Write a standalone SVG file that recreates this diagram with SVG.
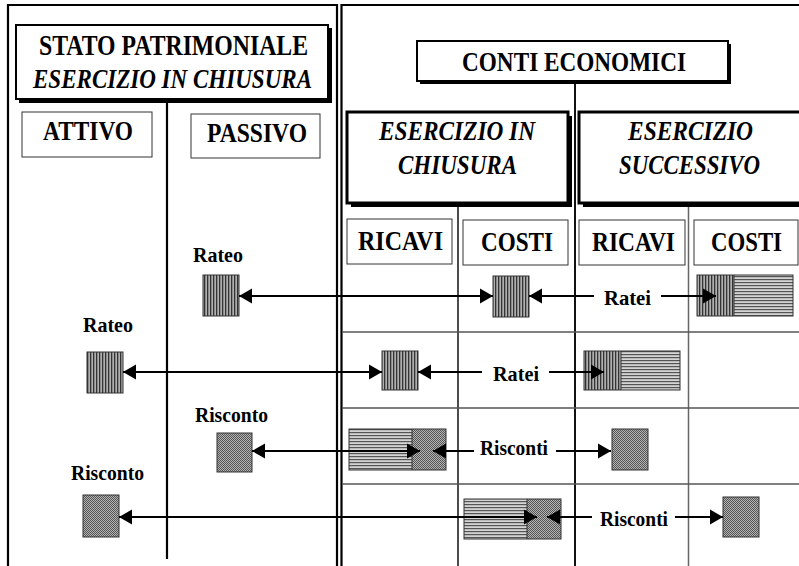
<svg xmlns="http://www.w3.org/2000/svg" width="799" height="566" viewBox="0 0 799 566">
<defs>
 <pattern id="pv" width="3" height="3" patternUnits="userSpaceOnUse"><rect width="3" height="3" fill="#b0b0b0"/><rect width="1.3" height="3" fill="#333"/></pattern>
 <pattern id="ph" width="3" height="3" patternUnits="userSpaceOnUse"><rect width="3" height="3" fill="#d4d4d4"/><rect width="3" height="1.2" fill="#555"/></pattern>
 <pattern id="pd" width="2" height="2" patternUnits="userSpaceOnUse"><rect width="2" height="2" fill="#b4b4b4"/><rect width="1" height="1" fill="#555"/><rect x="1" y="1" width="1" height="1" fill="#555"/></pattern>
 <marker id="ah" markerUnits="userSpaceOnUse" markerWidth="14" markerHeight="16" refX="13" refY="8" orient="auto-start-reverse"><path d="M0,0.5 L13,8 L0,15.5 z" fill="#000"/></marker>
</defs>
<style>
 .t{font-family:"Liberation Serif","Times New Roman",serif;font-weight:bold;fill:#000;text-anchor:middle}
 .h{font-size:27px}
 .i{font-style:italic}
 .l{font-size:22px}
 .frame{fill:none;stroke:#000;stroke-width:2.2}
 .box{fill:#fff;stroke:#000;stroke-width:2}
 .tbox{fill:#fff;stroke:#000;stroke-width:3}
 .shadow{fill:#000}
 .hdr{fill:#fff;stroke:#333;stroke-width:1}
 .grid{stroke:#555;stroke-width:1.5;fill:none}
 .sq{stroke:#333;stroke-width:1}
 .arr{stroke:#000;stroke-width:2;fill:none;marker-end:url(#ah)}
 .arr2{marker-start:url(#ah)}
</style>
<rect width="799" height="566" fill="#fff"/>

<g id="frame">
 <path class="frame" d="M8,566 V5 H337 V566"/>
 <path class="frame" d="M341.5,566 V5 H799"/>
 <line class="frame" x1="167" y1="103" x2="167" y2="559" stroke-width="1.8"/>
 <line x1="575" y1="83" x2="575" y2="566" stroke="#111" stroke-width="2"/>
 <line x1="458" y1="205" x2="458" y2="566" stroke="#111" stroke-width="1.5"/>
 <line x1="688.5" y1="205" x2="688.5" y2="566" stroke="#666" stroke-width="1.5"/>
 <path class="grid" d="M342,332 H799 M342,408 H799 M342,484 H799"/>
</g>

<g id="stato-patrimoniale">
 <rect class="shadow" x="19" y="28" width="313" height="75"/>
 <rect class="box" x="16" y="25" width="312" height="74"/>
 <text class="t" x="173.5" y="55" font-size="29" textLength="269" lengthAdjust="spacingAndGlyphs">STATO PATRIMONIALE</text>
 <text class="t h i" x="172.5" y="88" textLength="279" lengthAdjust="spacingAndGlyphs">ESERCIZIO IN CHIUSURA</text>
</g>
<g id="attivo">
 <rect class="hdr" x="22" y="112" width="130" height="45"/>
 <text class="t h" x="88" y="140" textLength="90" lengthAdjust="spacingAndGlyphs">ATTIVO</text>
</g>
<g id="passivo">
 <rect class="hdr" x="191" y="114" width="129" height="44"/>
 <text class="t h" x="257" y="142" textLength="100" lengthAdjust="spacingAndGlyphs">PASSIVO</text>
</g>

<g id="conti-economici">
 <rect class="shadow" x="420" y="44" width="311" height="40"/>
 <rect class="box" x="417" y="41" width="311" height="40"/>
 <text class="t h" x="574" y="71" textLength="224" lengthAdjust="spacingAndGlyphs">CONTI ECONOMICI</text>
</g>
<g id="esercizio-chiusura">
 <rect class="shadow" x="351" y="116" width="221" height="91"/>
 <rect class="tbox" x="347" y="112" width="221" height="91"/>
 <text class="t h i" x="457" y="140" textLength="156" lengthAdjust="spacingAndGlyphs">ESERCIZIO IN</text>
 <text class="t h i" x="457.5" y="174" textLength="119" lengthAdjust="spacingAndGlyphs">CHIUSURA</text>
</g>
<g id="esercizio-successivo">
 <rect class="shadow" x="583" y="116" width="230" height="91"/>
 <rect class="tbox" x="579" y="112" width="230" height="91"/>
 <text class="t h i" x="690.5" y="140" textLength="125" lengthAdjust="spacingAndGlyphs">ESERCIZIO</text>
 <text class="t h i" x="689.5" y="174" textLength="141" lengthAdjust="spacingAndGlyphs">SUCCESSIVO</text>
</g>
<g id="ricavi-1">
 <rect class="hdr" x="347" y="219" width="105" height="45"/>
 <text class="t h" x="400.5" y="250" textLength="85" lengthAdjust="spacingAndGlyphs">RICAVI</text>
</g>
<g id="costi-1">
 <rect class="hdr" x="463" y="220" width="105" height="45"/>
 <text class="t h" x="517" y="251" textLength="72" lengthAdjust="spacingAndGlyphs">COSTI</text>
</g>
<g id="ricavi-2">
 <rect class="hdr" x="579" y="220" width="106" height="45"/>
 <text class="t h" x="633.5" y="251" textLength="83" lengthAdjust="spacingAndGlyphs">RICAVI</text>
</g>
<g id="costi-2">
 <rect class="hdr" x="694" y="220" width="104" height="45"/>
 <text class="t h" x="746.5" y="251" textLength="71" lengthAdjust="spacingAndGlyphs">COSTI</text>
</g>

<!-- row 1 -->
<g id="rateo-passivo">
 <text class="t l" x="218" y="262" textLength="50" lengthAdjust="spacingAndGlyphs">Rateo</text>
 <rect class="sq" x="203" y="275" width="36" height="41" fill="url(#pv)"/>
</g>
<g id="costo-rateo-1">
 <rect class="sq" x="493" y="276" width="36" height="41" fill="url(#pv)"/>
</g>
<g id="costo-rateo-2">
 <rect x="697" y="275" width="37" height="41" fill="url(#pv)"/>
 <rect x="734" y="275" width="59" height="41" fill="url(#ph)"/>
 <rect class="sq" x="697" y="275" width="96" height="41" fill="none"/>
 <line class="sq" x1="734" y1="275" x2="734" y2="316"/>
</g>
<!-- row 2 -->
<g id="rateo-attivo">
 <text class="t l" x="108" y="332" textLength="50" lengthAdjust="spacingAndGlyphs">Rateo</text>
 <rect class="sq" x="87" y="352" width="36" height="41" fill="url(#pv)"/>
</g>
<g id="ricavo-rateo-1">
 <rect class="sq" x="382" y="351" width="36" height="39" fill="url(#pv)"/>
</g>
<g id="ricavo-rateo-2">
 <rect x="584" y="351" width="37" height="39" fill="url(#pv)"/>
 <rect x="621" y="351" width="59" height="39" fill="url(#ph)"/>
 <rect class="sq" x="584" y="351" width="96" height="39" fill="none"/>
 <line class="sq" x1="621" y1="351" x2="621" y2="390"/>
</g>
<!-- row 3 -->
<g id="risconto-passivo">
 <text class="t l" x="231.5" y="422" textLength="73" lengthAdjust="spacingAndGlyphs">Risconto</text>
 <rect class="sq" x="217" y="433" width="35" height="39" fill="url(#pd)"/>
</g>
<g id="ricavo-risconto-1">
 <rect x="349" y="429" width="63" height="41" fill="url(#ph)"/>
 <rect x="412" y="429" width="34" height="41" fill="url(#pd)"/>
 <rect class="sq" x="349" y="429" width="97" height="41" fill="none"/>
 <line class="sq" x1="412" y1="429" x2="412" y2="470"/>
</g>
<g id="ricavo-risconto-2">
 <rect class="sq" x="612" y="429" width="36" height="41" fill="url(#pd)"/>
</g>
<!-- row 4 -->
<g id="risconto-attivo">
 <text class="t l" x="107.5" y="480" textLength="73" lengthAdjust="spacingAndGlyphs">Risconto</text>
 <rect class="sq" x="83" y="495" width="36" height="42" fill="url(#pd)"/>
</g>
<g id="costo-risconto-1">
 <rect x="464" y="499" width="63" height="40" fill="url(#ph)"/>
 <rect x="527" y="499" width="34" height="40" fill="url(#pd)"/>
 <rect class="sq" x="464" y="499" width="97" height="40" fill="none"/>
 <line class="sq" x1="527" y1="499" x2="527" y2="539"/>
</g>
<g id="costo-risconto-2">
 <rect class="sq" x="723" y="497" width="36" height="40" fill="url(#pd)"/>
</g>

<g id="connectors">
 <line class="arr arr2" x1="239" y1="296" x2="493" y2="296"/>
 <line class="arr" x1="594" y1="296" x2="529" y2="296"/>
 <line class="arr" x1="661" y1="296" x2="716" y2="296"/>
 <text class="t l" x="627.5" y="305" textLength="47" lengthAdjust="spacingAndGlyphs">Ratei</text>

 <line class="arr arr2" x1="123" y1="372" x2="382" y2="372"/>
 <line class="arr" x1="482" y1="372" x2="418" y2="372"/>
 <line class="arr" x1="549" y1="372" x2="604" y2="372"/>
 <text class="t l" x="516" y="381" textLength="46" lengthAdjust="spacingAndGlyphs">Ratei</text>

 <line class="arr arr2" x1="252" y1="451" x2="420" y2="451"/>
 <line class="arr" x1="474" y1="451" x2="433" y2="451"/>
 <line class="arr" x1="556" y1="451" x2="611" y2="451"/>
 <text class="t l" x="514" y="455" textLength="68" lengthAdjust="spacingAndGlyphs">Risconti</text>

 <line class="arr arr2" x1="119" y1="517" x2="537" y2="517"/>
 <line class="arr" x1="592" y1="517" x2="547" y2="517"/>
 <line class="arr" x1="675" y1="517" x2="723" y2="517"/>
 <text class="t l" x="634" y="526" textLength="68" lengthAdjust="spacingAndGlyphs">Risconti</text>
</g>
</svg>
